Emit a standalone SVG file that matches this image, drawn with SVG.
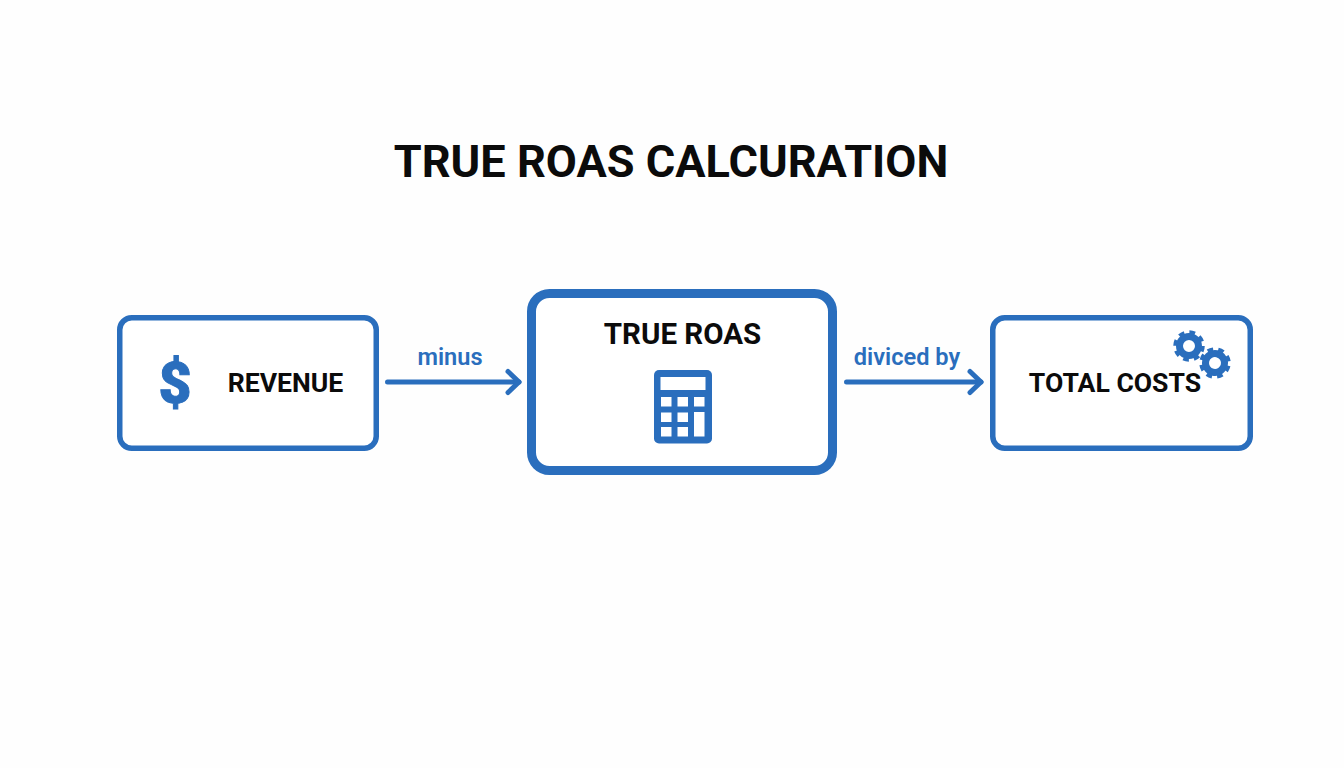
<svg xmlns="http://www.w3.org/2000/svg" width="1344" height="768" viewBox="0 0 1344 768">
<style>
text{font-family:Roboto,"Liberation Sans",sans-serif;font-weight:700;text-anchor:middle}
.k{fill:#0b0b0b}
.b{fill:#2a6ebd}
.box{fill:#fff;stroke:#2a6ebd;stroke-width:5.5}
.lab{font-size:23.6px;font-weight:600}
.node{font-size:26.6px}
.conn{fill:none;stroke:#2a6ebd;stroke-width:5;stroke-linecap:round;stroke-linejoin:round}
.hole{fill:#fff}
.ring{fill:none;stroke:#2a6ebd;stroke-width:7}
.teeth{fill:none;stroke:#2a6ebd;stroke-width:4.5;stroke-dasharray:5.6 5}
</style>
<defs>
<marker id="arrow" markerUnits="userSpaceOnUse" markerWidth="20" markerHeight="28" refX="16" refY="14" orient="auto">
<path d="M5 3.500L16 14L5 24.500" class="conn"/>
</marker>
<g id="gear"><circle r="9.500" class="ring"/><circle r="13.500" class="teeth"/></g>
</defs>
<rect width="1344" height="768" fill="#fefefe"/>
<text id="title" x="671" y="177" class="k" font-size="45.100">TRUE ROAS CALCURATION</text>
<g id="connectors">
<path d="M387.500 382H519" class="conn" marker-end="url(#arrow)"/>
<path d="M846.500 382H981" class="conn" marker-end="url(#arrow)"/>
<text x="450" y="365" class="b lab">minus</text>
<text x="907" y="365" class="b lab">diviced by</text>
</g>
<g id="revenue">
<rect x="119.750" y="317.750" width="256.500" height="130.500" rx="12" class="box"/>
<text x="175" y="403" class="b" font-size="57" style="font-weight:900" stroke="#2a6ebd" stroke-width="1">$</text>
<text x="285.500" y="392" class="k node">REVENUE</text>
</g>
<g id="true-roas">
<rect x="531.500" y="293.500" width="301" height="177" rx="18" class="box" style="stroke-width:9"/>
<text x="682.500" y="344" class="k" font-size="29.500">TRUE ROAS</text>
<g id="calculator">
<rect x="654" y="370" width="58" height="73.500" rx="5" class="b"/>
<rect x="660.500" y="377" width="45" height="13" class="hole"/>
<rect x="661" y="397" width="10.500" height="9.500" class="hole"/>
<rect x="677.500" y="397" width="10.500" height="9.500" class="hole"/>
<rect x="694" y="397" width="10.500" height="9.500" class="hole"/>
<rect x="661" y="412.500" width="10.500" height="9.500" class="hole"/>
<rect x="677.500" y="412.500" width="10.500" height="9.500" class="hole"/>
<rect x="694" y="412" width="10.500" height="24.500" class="hole"/>
<rect x="661" y="427" width="10.500" height="9.500" class="hole"/>
<rect x="677.500" y="427" width="10.500" height="9.500" class="hole"/>
</g>
</g>
<g id="total-costs">
<rect x="992.750" y="317.750" width="257.500" height="130.500" rx="12" class="box"/>
<text x="1115" y="392" class="k node">TOTAL COSTS</text>
<use href="#gear" transform="translate(1189 346)"/>
<use href="#gear" transform="translate(1215 363) rotate(12)"/>
</g>
</svg>
